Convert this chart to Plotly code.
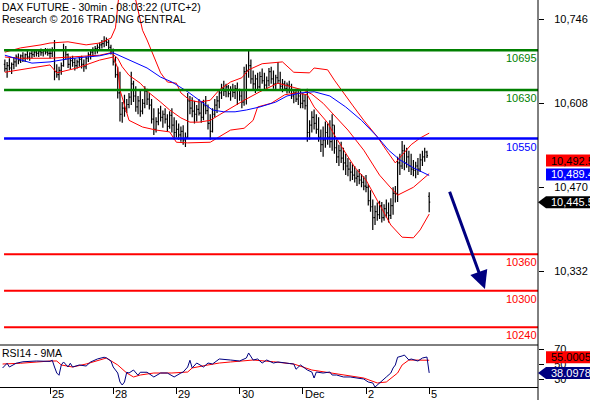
import plotly.graph_objects as go

FONT = "Liberation Sans, Arial, sans-serif"

title_line1 = "DAX FUTURE - 30min - 08:03:22 (UTC+2)"
title_line2 = "Research © 2016 TRADING CENTRAL"
rsi_title = "RSI14 - 9MA"

# trading-day starts (30-min slot index) and their labels
day_labels = ["25", "28", "29", "30", "Dec", "2", "5"]
day_start_slot = [0, 28, 56, 84, 112, 140, 168]

# bar slot index (Nov 24 partial day = negative slots)
slots = list(range(-20, 169))

opens = [
    # Nov 24
    10672, 10665, 10670, 10666, 10672, 10676, 10684, 10678, 10686, 10682, 10688, 10684, 10690, 10688, 10692, 10690, 10693, 10691, 10694, 10692,
    # Nov 25
    10690, 10690, 10696, 10660, 10655, 10662, 10670, 10695, 10688, 10672, 10678, 10675, 10670, 10676, 10680, 10672, 10668, 10682, 10688, 10692, 10696, 10698, 10700, 10704, 10706, 10710, 10708, 10700,
    # Nov 28
    10694, 10676, 10655, 10625, 10590, 10600, 10595, 10606, 10618, 10640, 10620, 10602, 10612, 10595, 10608, 10628, 10615, 10605, 10582, 10565, 10578, 10592, 10585, 10590, 10582, 10570, 10588, 10572,
    # Nov 29
    10560, 10565, 10556, 10562, 10548, 10552, 10612, 10600, 10595, 10590, 10598, 10592, 10585, 10604, 10596, 10575, 10562, 10590, 10605, 10612, 10625, 10632, 10628, 10635, 10624, 10630, 10626, 10632,
    # Nov 30
    10630, 10620, 10610, 10660, 10662, 10670, 10648, 10640, 10648, 10635, 10652, 10645, 10638, 10645, 10660, 10648, 10640, 10650, 10645, 10636, 10640, 10632, 10638, 10630, 10620, 10625, 10615, 10620,
    # Dec 1
    10608, 10612, 10604, 10560, 10572, 10585, 10575, 10565, 10552, 10540, 10548, 10560, 10552, 10545, 10572, 10535, 10520, 10530, 10518, 10510, 10505, 10500, 10495, 10490, 10485, 10488, 10482, 10478,
    # Dec 2
    10472, 10470, 10448, 10438, 10420, 10430, 10425, 10440, 10420, 10435, 10428, 10424, 10440, 10460, 10460, 10510, 10505, 10530, 10510, 10520, 10505, 10500, 10498, 10505, 10500, 10515, 10520, 10528,
    # Dec 5
    10455,
]
highs = [
    10680, 10676, 10682, 10675, 10684, 10688, 10690, 10688, 10692, 10690, 10694, 10692, 10695, 10696, 10697, 10696, 10698, 10697, 10699, 10698,
    10698, 10700, 10712, 10672, 10668, 10675, 10706, 10702, 10690, 10684, 10686, 10682, 10680, 10684, 10686, 10680, 10685, 10692, 10696, 10700, 10702, 10705, 10708, 10712, 10718, 10716, 10712, 10704,
    10698, 10684, 10668, 10660, 10610, 10622, 10615, 10625, 10660, 10645, 10636, 10620, 10628, 10615, 10636, 10632, 10625, 10615, 10600, 10585, 10600, 10604, 10596, 10600, 10590, 10595, 10600, 10585,
    10580, 10575, 10570, 10572, 10560, 10625, 10620, 10618, 10612, 10605, 10615, 10610, 10614, 10620, 10606, 10590, 10600, 10615, 10620, 10630, 10640, 10645, 10640, 10638, 10636, 10640, 10638, 10642,
    10632, 10628, 10668, 10672, 10694, 10680, 10662, 10655, 10658, 10660, 10665, 10658, 10652, 10666, 10668, 10662, 10655, 10676, 10660, 10648, 10645, 10642, 10645, 10640, 10630, 10632, 10628, 10630,
    10625, 10622, 10632, 10580, 10595, 10598, 10590, 10585, 10565, 10570, 10578, 10575, 10580, 10590, 10572, 10548, 10540, 10545, 10535, 10525, 10518, 10512, 10508, 10505, 10498, 10500, 10492, 10488,
    10490, 10475, 10465, 10450, 10440, 10445, 10448, 10446, 10442, 10450, 10445, 10452, 10470, 10472, 10520, 10525, 10546, 10540, 10535, 10530, 10525, 10515, 10512, 10518, 10525, 10530, 10535, 10530,
    10462,
]
lows = [
    10660, 10650, 10662, 10656, 10664, 10668, 10672, 10674, 10676, 10676, 10680, 10678, 10682, 10684, 10685, 10684, 10686, 10685, 10688, 10686,
    10682, 10684, 10646, 10650, 10646, 10655, 10668, 10680, 10666, 10664, 10668, 10662, 10665, 10668, 10665, 10660, 10664, 10676, 10680, 10684, 10688, 10690, 10694, 10698, 10700, 10702, 10696, 10688,
    10670, 10650, 10616, 10578, 10576, 10586, 10592, 10600, 10605, 10610, 10594, 10590, 10586, 10590, 10600, 10605, 10598, 10575, 10556, 10560, 10572, 10578, 10568, 10575, 10562, 10566, 10560, 10548,
    10552, 10548, 10545, 10540, 10536, 10550, 10590, 10585, 10575, 10578, 10588, 10576, 10580, 10590, 10565, 10548, 10560, 10585, 10592, 10600, 10615, 10620, 10618, 10618, 10612, 10618, 10615, 10605,
    10612, 10600, 10604, 10606, 10650, 10640, 10628, 10625, 10630, 10632, 10640, 10630, 10628, 10636, 10640, 10632, 10630, 10640, 10628, 10626, 10628, 10624, 10625, 10615, 10608, 10610, 10605, 10600,
    10600, 10598, 10545, 10548, 10560, 10565, 10558, 10545, 10528, 10520, 10535, 10540, 10535, 10530, 10525, 10510, 10505, 10510, 10498, 10490, 10488, 10480, 10482, 10478, 10472, 10475, 10470, 10465,
    10462, 10440, 10430, 10400, 10408, 10415, 10418, 10412, 10415, 10420, 10412, 10418, 10425, 10445, 10446, 10490, 10500, 10498, 10502, 10495, 10490, 10488, 10485, 10490, 10495, 10505, 10512, 10518,
    10429,
]
closes = [
    10665, 10670, 10666, 10672, 10676, 10684, 10678, 10686, 10682, 10688, 10684, 10690, 10688, 10692, 10690, 10693, 10691, 10694, 10692, 10690,
    10690, 10696, 10660, 10655, 10662, 10670, 10695, 10688, 10672, 10678, 10675, 10670, 10676, 10680, 10672, 10668, 10682, 10688, 10692, 10696, 10698, 10700, 10704, 10706, 10710, 10708, 10700, 10694,
    10676, 10655, 10625, 10590, 10600, 10595, 10606, 10618, 10640, 10620, 10602, 10612, 10595, 10608, 10628, 10615, 10605, 10582, 10565, 10578, 10592, 10585, 10590, 10582, 10570, 10588, 10572, 10560,
    10565, 10556, 10562, 10548, 10552, 10612, 10600, 10595, 10590, 10598, 10592, 10585, 10604, 10596, 10575, 10562, 10590, 10605, 10612, 10625, 10632, 10628, 10635, 10624, 10630, 10626, 10632, 10630,
    10620, 10610, 10660, 10662, 10670, 10648, 10640, 10648, 10635, 10652, 10645, 10638, 10645, 10660, 10648, 10640, 10650, 10645, 10636, 10640, 10632, 10638, 10630, 10620, 10625, 10615, 10620, 10608,
    10612, 10604, 10560, 10572, 10585, 10575, 10565, 10552, 10540, 10548, 10560, 10552, 10545, 10572, 10535, 10520, 10530, 10518, 10510, 10505, 10500, 10495, 10490, 10485, 10488, 10482, 10478, 10472,
    10470, 10448, 10438, 10420, 10430, 10425, 10440, 10420, 10435, 10428, 10424, 10440, 10460, 10460, 10510, 10505, 10530, 10510, 10520, 10505, 10500, 10498, 10505, 10500, 10515, 10520, 10528, 10522,
    10445.5,
]

# moving average (blue)
ma_slot = [-20, -13, -8, 0, 8, 16, 22, 28, 32, 37, 43, 49, 54, 61, 66, 72, 77, 82, 87, 93, 100, 105, 111, 117, 124, 131, 138, 145, 150, 155, 161, 168]
ma_val = [10687, 10679, 10674, 10676, 10681, 10684, 10686, 10691, 10684, 10676, 10666, 10651, 10643, 10627, 10613, 10597, 10594, 10594, 10597, 10602, 10610, 10620, 10625, 10627, 10620, 10602, 10580, 10553, 10531, 10515, 10502, 10489.4]

# Bollinger bands (red)
bb_up_slot = [-20, -13, -4, 0, 8, 16, 22, 27, 29, 30, 31, 35, 38, 41, 43, 49, 52, 56, 58, 62, 66, 71, 75, 80, 85, 88, 94, 103, 108, 115, 117, 123, 126, 129, 134, 139, 145, 149, 153, 156, 160, 164, 168]
bb_up_val = [10692, 10699, 10704, 10707, 10709, 10704, 10707, 10715, 10732, 10761, 10802, 10827, 10778, 10728, 10712, 10658, 10643, 10641, 10625, 10613, 10610, 10613, 10630, 10643, 10650, 10663, 10673, 10676, 10659, 10658, 10666, 10663, 10646, 10630, 10605, 10580, 10553, 10531, 10510, 10523, 10540, 10551, 10559]
bb_mid_slot = [-20, -13, 0, 8, 16, 22, 27, 30, 32, 35, 40, 44, 49, 53, 58, 62, 66, 71, 75, 80, 86, 93, 101, 106, 112, 116, 121, 125, 132, 139, 146, 151, 154, 161, 168]
bb_mid_val = [10684, 10682, 10682, 10684, 10686, 10687, 10691, 10682, 10668, 10654, 10641, 10625, 10610, 10597, 10584, 10577, 10577, 10580, 10589, 10600, 10613, 10627, 10641, 10636, 10630, 10623, 10608, 10592, 10564, 10531, 10490, 10469, 10457, 10470, 10492.5]
bb_low_slot = [-20, -8, 0, 3, 12, 22, 28, 30, 31, 33, 35, 41, 47, 53, 56, 61, 66, 71, 75, 80, 86, 90, 92, 98, 104, 109, 114, 117, 123, 126, 131, 135, 140, 145, 151, 156, 161, 164, 168]
bb_low_val = [10659, 10666, 10671, 10658, 10666, 10679, 10684, 10666, 10630, 10605, 10580, 10569, 10564, 10561, 10544, 10543, 10543, 10544, 10553, 10564, 10567, 10580, 10602, 10608, 10622, 10625, 10622, 10602, 10576, 10556, 10526, 10503, 10482, 10449, 10408, 10388, 10387, 10400, 10426]

# RSI(14) and its 9-period MA
rsi_slot = [-21, -19, -18, -16, -15, -12, -6, 0, 1, 2, 3, 4, 5, 6, 8, 9, 10, 13, 16, 18, 21, 24, 25, 27, 28, 30, 31, 32, 33, 34, 35, 37, 39, 40, 43, 46, 49, 52, 55, 58, 59, 61, 62, 63, 65, 68, 70, 72, 75, 80, 84, 87, 88, 90, 92, 94, 96, 99, 101, 106, 108, 109, 111, 114, 116, 117, 118, 121, 124, 125, 127, 130, 133, 136, 139, 141, 143, 144, 146, 148, 149, 151, 152, 153, 154, 156, 157, 159, 160, 163, 165, 167, 167.5, 168]
rsi_val = [44.7, 51, 46, 50, 51, 53, 54, 53.5, 55, 46, 38, 35, 48.7, 52.7, 46, 51, 46, 48.7, 47.3, 52.7, 56.7, 59, 58, 54, 46, 38, 26, 22, 26, 39, 38, 42, 35, 39, 39, 32.7, 38, 38, 32.7, 38, 39.3, 46, 55, 44.7, 51.3, 46, 51.3, 50, 56.7, 55.3, 54, 58, 64.7, 55.3, 56.7, 51.3, 55.3, 51.3, 52.7, 50.7, 50, 43, 48.7, 42, 39.3, 31.3, 39.3, 38, 39.3, 35.3, 35.3, 32.7, 32.7, 31.3, 30, 26, 24.7, 19.3, 24.7, 31.3, 32.7, 38, 44.7, 48.7, 59, 60.7, 62, 55.3, 56.7, 54, 58, 59.3, 51.3, 38.0978]
rsima_slot = [-21, -13, 0, 3, 5, 10, 16, 22, 25, 30, 34, 37, 40, 46, 54, 61, 63, 70, 75, 80, 90, 99, 102, 108, 116, 124, 132, 139, 145, 149, 154, 156, 159, 168]
rsima_val = [50, 51, 54, 54, 48.7, 46, 50, 55.3, 58, 48.7, 38, 32.7, 35.3, 38, 38, 39.3, 44.7, 48.7, 51.3, 52.7, 55.3, 53, 52, 50, 42, 38, 34, 31.3, 24.7, 26, 38, 48.7, 55.3, 55.0005]

# key levels
levels_green = [10695, 10630]
levels_blue = [10550]
levels_red = [10360, 10300, 10240]

price_ticks = [10746, 10608, 10470, 10332]
rsi_ticks = [70, 50, 30]

last_close = 10445.5
last_bb_mid = 10492.5
last_ma = 10489.4
last_rsi = 38.0978
last_rsima = 55.0005

# projected move arrow (slot, price)
arrow_tail = (176.8, 10465)
arrow_head = (192.7, 10303)

X_END = 538 / 590  # right edge of plotting area (paper)
FLAG_X0 = 546 / 590
TEXT_X = 550 / 590
MAIN_BOTTOM = 1 - 345 / 400
RSI_BOTTOM = 1 - 387 / 400
FS = 11
FS_TITLE = 10.5

fig = go.Figure()

fig.add_trace(go.Ohlc(
    x=slots, open=opens, high=highs, low=lows, close=closes,
    increasing=dict(line=dict(color="black", width=1.2)),
    decreasing=dict(line=dict(color="black", width=1.2)),
    tickwidth=0.45, xaxis="x", yaxis="y", hoverinfo="skip", showlegend=False,
))
for xs, ys in [(bb_up_slot, bb_up_val), (bb_mid_slot, bb_mid_val), (bb_low_slot, bb_low_val)]:
    fig.add_trace(go.Scatter(x=xs, y=ys, mode="lines", line=dict(color="#FF0000", width=1),
                             xaxis="x", yaxis="y", hoverinfo="skip", showlegend=False))
fig.add_trace(go.Scatter(x=ma_slot, y=ma_val, mode="lines", line=dict(color="#0000FF", width=1),
                         xaxis="x", yaxis="y", hoverinfo="skip", showlegend=False))

fig.add_trace(go.Scatter(x=rsima_slot, y=rsima_val, mode="lines", line=dict(color="#FF0000", width=1),
                         xaxis="x", yaxis="y2", hoverinfo="skip", showlegend=False))
fig.add_trace(go.Scatter(x=rsi_slot, y=rsi_val, mode="lines", line=dict(color="#000080", width=1),
                         xaxis="x", yaxis="y2", hoverinfo="skip", showlegend=False))

shapes = []
annotations = []

def level(v, color, width):
    shapes.append(dict(type="line", xref="x domain", yref="y", x0=0.0075, x1=1, y0=v, y1=v,
                       line=dict(color=color, width=width), layer="above"))
    annotations.append(dict(text=str(v), xref="x domain", yref="y", x=1, y=v, xanchor="right",
                            yanchor="top", showarrow=False, font=dict(color=color, size=FS, family=FONT),
                            borderpad=0, yshift=-1))

for v in levels_green:
    level(v, "#008000", 2.5)
for v in levels_blue:
    level(v, "#0000FF", 2.5)
for v in levels_red:
    level(v, "#FF0000", 2)

# panel frame lines
shapes.append(dict(type="line", xref="x domain", yref="paper", x0=1, x1=1, y0=0, y1=1,
                   line=dict(color="black", width=1)))
shapes.append(dict(type="line", xref="x domain", yref="paper", x0=0, x1=1, y0=MAIN_BOTTOM, y1=MAIN_BOTTOM,
                   line=dict(color="black", width=1)))

# value flags on the right (box + text), shift in pixels (up)
def flag(v, yref, bg, fg, shift=0, pointer=False):
    shapes.append(dict(type="rect", xref="paper", yref=yref, ysizemode="pixel", yanchor=v,
                       x0=FLAG_X0, x1=1.05, y0=shift - 6, y1=shift + 6,
                       fillcolor=bg, line=dict(width=0), layer="above"))
    if pointer:
        shapes.append(dict(type="path", xref="paper", yref=yref, ysizemode="pixel", yanchor=v,
                           path=f"M {X_END},{shift} L {FLAG_X0},{shift + 6} L {FLAG_X0},{shift - 6} Z",
                           fillcolor=bg, line=dict(width=0), layer="above"))
    annotations.append(dict(text=f"{v:,}" if yref == "y" else f"{v}", xref="paper", yref=yref,
                            x=TEXT_X, y=v, xanchor="left", yanchor="middle", yshift=shift,
                            showarrow=False, font=dict(color=fg, size=FS, family=FONT), borderpad=0))

flag(last_bb_mid, "y", "#FF0000", "black", shift=13)
flag(last_ma, "y", "#0000FF", "white", shift=1)
flag(last_close, "y", "black", "white", pointer=True)
flag(last_rsima, "y2", "#FF0000", "black", shift=3)
flag(last_rsi, "y2", "#000080", "white", pointer=True)

# day labels on the time axis
for s, lab in zip(day_start_slot, day_labels):
    annotations.append(dict(text=lab, xref="x", yref="paper", x=s, y=RSI_BOTTOM, xanchor="left",
                            yanchor="top", xshift=1, showarrow=False, borderpad=0,
                            font=dict(size=FS, family=FONT, color="black")))

annotations.append(dict(text=title_line1, xref="paper", yref="paper", x=0, y=1, xanchor="left", yanchor="top",
                        xshift=1, showarrow=False, borderpad=0,
                        font=dict(size=FS_TITLE, family=FONT, color="black")))
annotations.append(dict(text=title_line2, xref="paper", yref="paper", x=0, y=1 - 12 / 400, xanchor="left",
                        yanchor="top", xshift=1, showarrow=False, borderpad=0,
                        font=dict(size=FS_TITLE, family=FONT, color="black")))
annotations.append(dict(text=rsi_title, xref="paper", yref="paper", x=0, y=MAIN_BOTTOM - 1 / 400, xanchor="left",
                        yanchor="top", xshift=1, showarrow=False, borderpad=0,
                        font=dict(size=FS_TITLE, family=FONT, color="black")))

annotations.append(dict(text="", x=arrow_head[0], y=arrow_head[1], ax=arrow_tail[0], ay=arrow_tail[1],
                        xref="x", yref="y", axref="x", ayref="y", showarrow=True, arrowhead=2,
                        arrowsize=1.2, arrowwidth=3, arrowcolor="#000080", standoff=0))

fig.update_layout(
    width=590, height=400, margin=dict(l=0, r=0, t=0, b=0),
    paper_bgcolor="white", plot_bgcolor="white", showlegend=False,
    font=dict(family=FONT, size=FS, color="black"),
    xaxis=dict(domain=[0, X_END], range=[-22.15, 216.2], anchor="y2", tickvals=day_start_slot,
               ticktext=[""] * len(day_start_slot), ticks="outside", ticklen=6, tickcolor="black",
               showgrid=False, zeroline=False, showline=True, linecolor="black", linewidth=1,
               rangeslider=dict(visible=False), fixedrange=True),
    yaxis=dict(domain=[MAIN_BOTTOM, 1], range=[10210.9, 10777.7], side="right", anchor="x",
               tickvals=price_ticks, ticktext=[f"{v:,}" for v in price_ticks], ticks="outside",
               ticklen=5, tickcolor="black", showgrid=False, zeroline=False, showline=False,
               ticklabelstandoff=8, automargin=False, fixedrange=True,
               tickfont=dict(size=FS, family=FONT, color="black")),
    yaxis2=dict(domain=[RSI_BOTTOM, MAIN_BOTTOM], range=[19.33, 75.33], side="right", anchor="x",
                tickvals=rsi_ticks, ticktext=[str(v) for v in rsi_ticks], ticks="outside",
                ticklen=5, tickcolor="black", showgrid=False, zeroline=False, showline=False,
                ticklabelstandoff=8, automargin=False, fixedrange=True,
                tickfont=dict(size=FS, family=FONT, color="black")),
    shapes=shapes, annotations=annotations,
)

fig.write_html("out.html", config={"displayModeBar": False},
               post_script="document.body.style.margin='0px';")
